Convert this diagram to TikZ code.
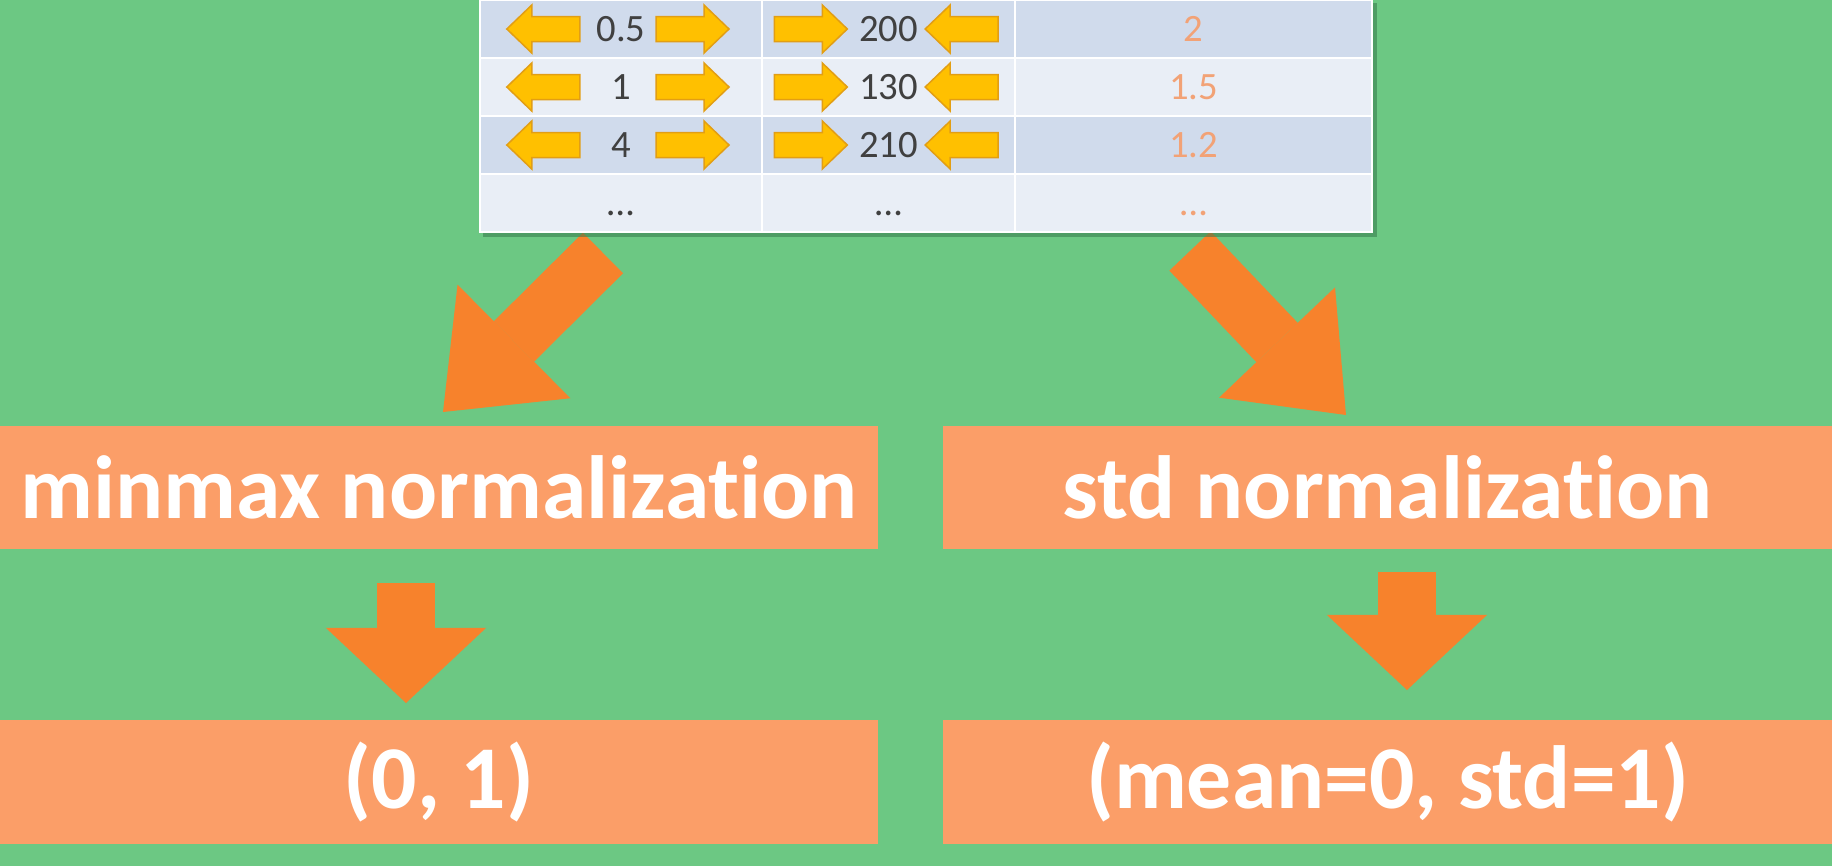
\documentclass[tikz,border=0pt]{standalone}
\usepackage{fontspec}
\setmainfont{Carlito}[Ligatures=NoCommon]
\usetikzlibrary{arrows.meta,calc,positioning}

\definecolor{bggreen}{RGB}{108,200,131}
\definecolor{shadowgreen}{RGB}{55,120,75}
\definecolor{boxorange}{RGB}{251,158,104}
\definecolor{arroworange}{RGB}{247,130,44}
\definecolor{rowdark}{RGB}{208,219,236}
\definecolor{rowlight}{RGB}{233,238,246}
\definecolor{numgray}{RGB}{64,64,64}
\definecolor{numorange}{RGB}{242,162,118}
\definecolor{gold}{RGB}{255,192,0}
\definecolor{golddark}{RGB}{226,158,20}

\tikzset{
  goldarrow/.pic={
    \filldraw[fill=gold,draw=golddark,line width=0.015cm]
      (-36.5,0) -- (-11.5,-24) -- (-11.5,-12.5) -- (36.5,-12.5)
      -- (36.5,12.5) -- (-11.5,12.5) -- (-11.5,24) -- cycle;
  }
}

\begin{document}
\begin{tikzpicture}[x=0.01cm,y=-0.01cm,
 every node/.style={font=\fontsize{11}{13}\selectfont,align=center},
 cell/.style={draw=white,line width=0.02cm,minimum width=#1,minimum height=0.58cm,inner sep=0pt,text height=7pt,text depth=0pt,text=numgray},
 box/.style={fill=boxorange,text=white,font=\fontsize{25.5}{30}\selectfont\bfseries,minimum height=1.23cm,inner sep=0pt},
 bigarrow/.style={draw=arroworange,line width=0.57cm,-{Triangle[length=1cm,width=1.6cm,line width=0pt]}},
 downarrow/.style={draw=arroworange,line width=0.57cm,-{Triangle[length=0.75cm,width=1.6cm,line width=0pt]}}]
\useasboundingbox (0,0) rectangle (1832,866);
\fill[bggreen] (0,0) rectangle (1832,866);

% arrows out of the table
\coordinate (minTail) at (603,253);
\coordinate (minTip) at (443,412);
\coordinate (stdTail) at (1190,251);
\coordinate (stdTip) at (1346,415);
\draw[bigarrow] (minTail) -- (minTip);
\draw[bigarrow] (stdTail) -- (stdTip);

% table
\fill[shadowgreen,opacity=0.55] (483,3) rectangle (1377,237);
\foreach \r/\a/\b/\c/\tint in {1/0.5/200/2/rowdark,2/1/130/1.5/rowlight,3/4/210/1.2/rowdark,4/\dots/\dots/\dots/rowlight} {
  \node[cell=2.82cm,fill=\tint] (colA-\r) at (621,{29+58*(\r-1)}) {\a};
  \node[cell=2.53cm,fill=\tint] (colB-\r) at (888.5,{29+58*(\r-1)}) {\b};
  \node[cell=3.57cm,fill=\tint,text=numorange] (colC-\r) at (1193.5,{29+58*(\r-1)}) {\c};
}
\foreach \r in {1,2,3} {
  \pic at (543.3,{29+58*(\r-1)}) {goldarrow};
  \pic[xscale=-1] at (692.5,{29+58*(\r-1)}) {goldarrow};
  \pic[xscale=-1] at (810.8,{29+58*(\r-1)}) {goldarrow};
  \pic at (961.7,{29+58*(\r-1)}) {goldarrow};
}

% normalization boxes
\node[box,minimum width=8.78cm] (minmax) at (439,487.5) {minmax normalization};
\node[box,minimum width=8.89cm] (stdnorm) at (1387.5,487.5) {std normalization};
\node[box,minimum width=8.78cm] (unitrange) at (439,782) {(0, 1)};
\node[box,minimum width=8.89cm] (zscore) at (1387.5,782) {(mean=0, std=1)};

\coordinate (minTop) at (406,583);
\coordinate (minEnd) at (406,703);
\coordinate (stdTop) at (1407,572);
\coordinate (stdEnd) at (1407,690);
\draw[downarrow] (minTop) -- (minEnd);
\draw[downarrow] (stdTop) -- (stdEnd);
\end{tikzpicture}
\end{document}
